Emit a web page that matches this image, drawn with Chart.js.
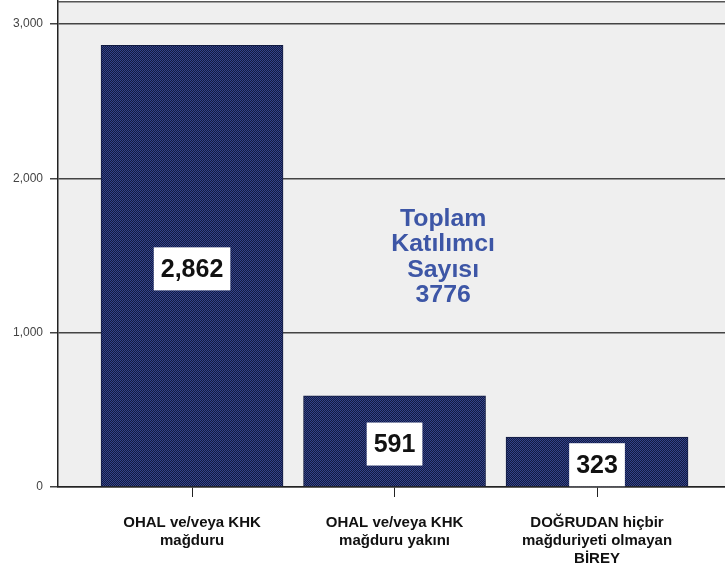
<!DOCTYPE html>
<html>
<head>
<meta charset="utf-8">
<script src="https://cdn.jsdelivr.net/npm/chart.js@4/dist/chart.umd.min.js"></script>
<style>
html,body{margin:0;padding:0;background:#fff;}
#wrap{width:725px;height:569px;}
</style>
</head>
<body>
<div id="wrap"><canvas id="c" width="725" height="569"></canvas></div>
<script>
const categories = [
  ["OHAL ve/veya KHK", "mağduru"],
  ["OHAL ve/veya KHK", "mağduru yakını"],
  ["DOĞRUDAN hiçbir", "mağduriyeti olmayan", "BİREY"]
];
const counts = [2862, 591, 323];
const valueLabels = ["2,862", "591", "323"];
const yTicks = [0, 1000, 2000, 3000];
const noteLines = ["Toplam", "Katılımcı", "Sayısı", "3776"];

const FONT = "'Liberation Sans', Arial, sans-serif";

function makePattern(ctx) {
  const p = document.createElement('canvas');
  p.width = 2; p.height = 2;
  const g = p.getContext('2d');
  g.fillStyle = '#121a42';
  g.fillRect(0, 0, 2, 2);
  g.fillStyle = '#34448a';
  g.fillRect(0, 0, 1, 1);
  g.fillRect(1, 1, 1, 1);
  return ctx.createPattern(p, 'repeat');
}

const bgPlugin = {
  id: 'bg',
  beforeDraw(chart) {
    const {ctx, chartArea: a} = chart;
    ctx.save();
    ctx.fillStyle = '#efefef';
    ctx.fillRect(a.left, a.top, a.right - a.left, a.bottom - a.top);
    ctx.restore();
  },
  afterDatasetsDraw(chart) {
    const {ctx, chartArea: a} = chart;
    ctx.save();
    // top frame
    ctx.strokeStyle = '#555';
    ctx.lineWidth = 1.5;
    ctx.beginPath();
    ctx.moveTo(a.left, a.top + 0.75);
    ctx.lineTo(a.right, a.top + 0.75);
    ctx.stroke();
    // value labels
    const meta = chart.getDatasetMeta(0);
    ctx.font = 'bold 25px ' + FONT;
    ctx.textAlign = 'center';
    ctx.textBaseline = 'middle';
    meta.data.forEach((el, i) => {
      const txt = valueLabels[i];
      const cy = (el.y + el.base) / 2 + 3;
      const w = ctx.measureText(txt).width + 14;
      const h = 43;
      ctx.fillStyle = '#ffffff';
      ctx.fillRect(el.x - w / 2, cy - h / 2, w, h);
      ctx.fillStyle = '#111';
      ctx.fillText(txt, el.x, cy + 1);
    });
    // note text
    const xs = chart.scales.x, ys = chart.scales.y;
    const nx = xs.getPixelForValue(1.24);
    const ny = ys.getPixelForValue(1500) + 2;
    ctx.font = 'bold 23px ' + FONT;
    ctx.fillStyle = '#3d56a6';
    const lh = 25.3;
    noteLines.forEach((t, i) => {
      ctx.save();
      ctx.translate(nx, ny + (i - (noteLines.length - 1) / 2) * lh);
      ctx.scale(1.08, 1);
      ctx.fillText(t, 0, 0);
      ctx.restore();
    });
    ctx.restore();
  }
};

const canvas = document.getElementById('c');
const ctx = canvas.getContext('2d');

new Chart(ctx, {
  type: 'bar',
  data: {
    datasets: [{
      data: counts.map((v, i) => ({x: i, y: v})),
      backgroundColor: makePattern(ctx),
      borderColor: '#111a40',
      borderWidth: 1,
      barThickness: 182
    }]
  },
  options: {
    responsive: false,
    animation: false,
    layout: {padding: {top: 1, left: 0, right: 0, bottom: 0}},
    plugins: {legend: {display: false}, tooltip: {enabled: false}},
    scales: {
      x: {
        type: 'linear',
        offset: false,
        min: -0.662,
        max: 2.632,
        afterBuildTicks(scale) { scale.ticks = [0, 1, 2].map(v => ({value: v})); },
        afterFit(scale) { scale.height = 82; scale.paddingLeft = 0; scale.paddingRight = 0; },
        grid: {offset: false, drawOnChartArea: false, drawTicks: true, tickLength: 10, color: '#222', lineWidth: 1},
        border: {display: true, color: '#222', width: 1.5},
        ticks: {
          autoSkip: false,
          maxRotation: 0,
          padding: 17,
          color: '#111',
          font: {family: FONT, size: 15, weight: 'bold', lineHeight: 1.2},
          callback: (v) => categories[v]
        }
      },
      y: {
        min: 0,
        max: 3150,
        afterBuildTicks(scale) { scale.ticks = yTicks.map(v => ({value: v})); },
        afterFit(scale) { scale.width = 58; scale.paddingTop = 0; scale.paddingBottom = 0; },
        grid: {color: '#444', lineWidth: 1.5, drawTicks: true, tickLength: 8},
        border: {display: true, color: '#222', width: 1.5},
        ticks: {
          padding: 7,
          color: '#444',
          font: {family: FONT, size: 12},
          callback: (v) => v.toLocaleString('en-US')
        }
      }
    }
  },
  plugins: [bgPlugin]
});
</script>
</body>
</html>
